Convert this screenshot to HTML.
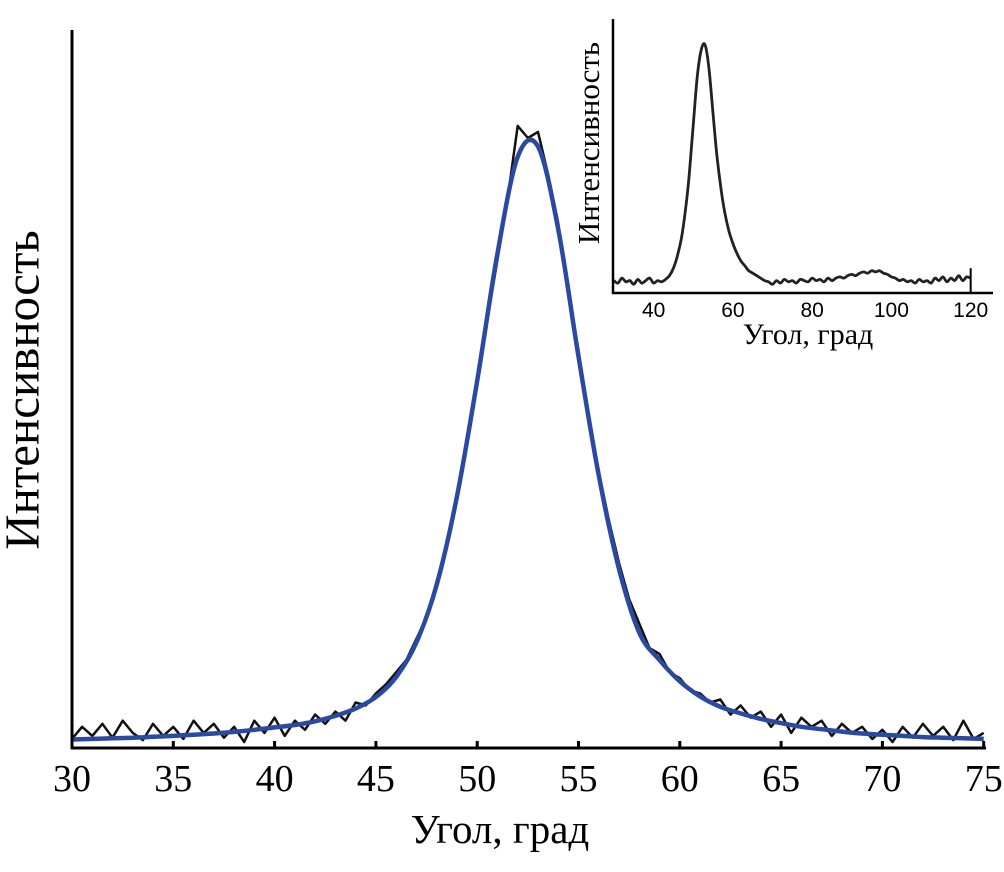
<!DOCTYPE html>
<html><head><meta charset="utf-8"><style>
body{margin:0;background:#fff;}
svg{display:block;}
text{font-family:"Liberation Serif",serif;fill:#000;}
.sans{font-family:"Liberation Sans",sans-serif;}
</style></head><body>
<svg id="chart" width="1004" height="872" viewBox="0 0 1004 872">
<g id="main"></g>
<g id="inset"></g>
<text x="27" y="390" font-size="49" text-anchor="middle" dominant-baseline="middle" transform="rotate(-90 27 390)">Интенсивность</text>
<text x="500" y="843" font-size="41" text-anchor="middle">Угол, град</text>
<text x="592" y="143" font-size="31" text-anchor="middle" dominant-baseline="middle" transform="rotate(-90 592 143)">Интенсивность</text>
<text x="808" y="344" font-size="30" text-anchor="middle">Угол, град</text>
</svg>
<script>
const mainTicks=[30,35,40,45,50,55,60,65,70,75];
const mainData=[0.01,0.03,0.015,0.035,0.012,0.04,0.02,0.008,0.035,0.015,0.03,0.01,0.04,0.02,0.035,0.012,0.03,0.005,0.04,0.02,0.045,0.015,0.04,0.025,0.05,0.035,0.055,0.04,0.07,0.065,0.085,0.1,0.12,0.14,0.175,0.21,0.27,0.33,0.41,0.5,0.6,0.7,0.8,0.9,1.02,1.0,1.01,0.94,0.86,0.74,0.65,0.54,0.45,0.37,0.3,0.24,0.2,0.16,0.15,0.12,0.11,0.09,0.085,0.07,0.075,0.05,0.065,0.045,0.055,0.03,0.05,0.02,0.045,0.03,0.04,0.015,0.035,0.02,0.03,0.01,0.025,0.005,0.03,0.012,0.035,0.015,0.03,0.008,0.04,0.01,0.02];
const mainFit=[0.009,0.010,0.011,0.012,0.0135,0.015,0.017,0.019,0.0216,0.025,0.029,0.033,0.039,0.048,0.060,0.079,0.112,0.169,0.264,0.409,0.600,0.81,0.969,0.986,0.85,0.64,0.444,0.29,0.185,0.14,0.105,0.08,0.063,0.052,0.043,0.036,0.03,0.026,0.022,0.019,0.017,0.015,0.013,0.012,0.011,0.01];
const insetTicks=[40,60,80,100,120];
const insetData=[0.05,0.04,0.06,0.045,0.05,0.035,0.055,0.04,0.05,0.06,0.04,0.05,0.045,0.055,0.07,0.1,0.15,0.22,0.33,0.48,0.68,0.87,0.98,1.0,0.9,0.72,0.55,0.42,0.32,0.25,0.2,0.16,0.13,0.11,0.09,0.08,0.07,0.06,0.05,0.045,0.035,0.05,0.04,0.055,0.045,0.05,0.04,0.055,0.05,0.045,0.06,0.05,0.055,0.045,0.06,0.05,0.06,0.065,0.06,0.07,0.075,0.07,0.08,0.085,0.08,0.09,0.085,0.09,0.08,0.075,0.065,0.06,0.05,0.055,0.045,0.05,0.04,0.055,0.045,0.05,0.04,0.06,0.05,0.065,0.045,0.06,0.05,0.07,0.05,0.065,0.06];
const NS='http://www.w3.org/2000/svg';
function mk(tag,attrs,parent){const e=document.createElementNS(NS,tag);for(const k in attrs)e.setAttribute(k,attrs[k]);parent.appendChild(e);return e;}
function smooth(pts){let d='M'+pts[0][0].toFixed(1)+' '+pts[0][1].toFixed(1);
 for(let i=0;i<pts.length-1;i++){const p0=pts[Math.max(0,i-1)],p1=pts[i],p2=pts[i+1],p3=pts[Math.min(pts.length-1,i+2)];
 const c1x=p1[0]+(p2[0]-p0[0])/6,c1y=p1[1]+(p2[1]-p0[1])/6,c2x=p2[0]-(p3[0]-p1[0])/6,c2y=p2[1]-(p3[1]-p1[1])/6;
 d+='C'+c1x.toFixed(1)+' '+c1y.toFixed(1)+' '+c2x.toFixed(1)+' '+c2y.toFixed(1)+' '+p2[0].toFixed(1)+' '+p2[1].toFixed(1);}
 return d;}
const mx=v=>72+(v-30)*20.26, my=v=>745-v*607;
const gm=document.getElementById('main');
let p=mk('path',{d:mainData.map((v,i)=>(i?'L':'M')+mx(30+i*0.5).toFixed(1)+' '+my(v).toFixed(1)).join(''),fill:'none',stroke:'#111','stroke-width':2.5,'stroke-linejoin':'round'},gm);


p=mk('path',{d:smooth(mainFit.map((v,i)=>[mx(30+i),my(v)])),fill:'none',stroke:'#2a49a0','stroke-width':4.5,'stroke-linejoin':'round'},gm);


p=mk('line',{x1:72,y1:30,x2:72,y2:749,stroke:'#000','stroke-width':3},gm);


p=mk('line',{x1:71,y1:748,x2:986,y2:748,stroke:'#000','stroke-width':3},gm);


mainTicks.forEach(t=>{
 const tk=mk('line',{x1:mx(t),y1:741,x2:mx(t),y2:748,stroke:'#000','stroke-width':3},gm);
 
 
 const tl=mk('text',{x:mx(t),y:791,'font-size':38,'text-anchor':'middle'},gm);
 tl.textContent=t;
 
 
});
const ix=v=>614+(v-30)*3.963, iy=v=>293-v*248;
const gi=document.getElementById('inset');
p=mk('path',{d:smooth(insetData.map((v,i)=>[ix(30+i),iy(v)])),fill:'none',stroke:'#222','stroke-width':2.8,'stroke-linejoin':'round'},gi);


p=mk('line',{x1:ix(120),y1:iy(0.1),x2:ix(120),y2:293,stroke:'#000','stroke-width':2},gi);


p=mk('line',{x1:613,y1:19,x2:613,y2:294,stroke:'#000','stroke-width':2.5},gi);


p=mk('line',{x1:612,y1:293,x2:993,y2:293,stroke:'#000','stroke-width':2.5},gi);


insetTicks.forEach(t=>{
 const tl=mk('text',{x:ix(t),y:317,'font-size':21,'text-anchor':'middle','class':'sans'},gi);
 tl.textContent=t;
 
 
});
</script>
</body></html>
